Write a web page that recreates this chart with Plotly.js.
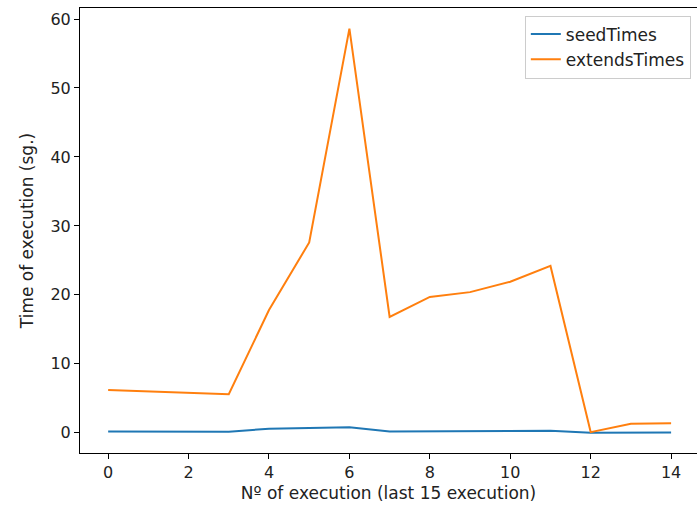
<!DOCTYPE html>
<html><head><meta charset="utf-8">
<script src="https://cdn.plot.ly/plotly-3.0.1.min.js"></script>
<style>html,body{margin:0;padding:0;background:#fff}</style>
</head><body>
<div id="chart" style="width:697px;height:505px"></div>
<script>
const executions = [0,1,2,3,4,5,6,7,8,9,10,11,12,13,14];
const seedTimes = [0.2,0.2,0.15,0.15,0.6,0.7,0.8,0.2,0.25,0.2,0.3,0.3,0.0,0.05,0.05];
const extendsTimes = [6.2,6.0,5.8,5.6,17.8,27.6,58.6,16.8,19.7,20.4,21.9,24.2,0.1,1.3,1.4];
const xTicks = [0,2,4,6,8,10,12,14];
const yTicks = [0,10,20,30,40,50,60];

const tickFont = {family:'DejaVu Sans', size:16, color:'#222'};
const titleFont = {family:'DejaVu Sans', size:17, color:'#222'};
const traces = [
  {x:executions, y:seedTimes, name:'seedTimes', mode:'lines', line:{color:'#1f77b4', width:2}},
  {x:executions, y:extendsTimes, name:'extendsTimes', mode:'lines', line:{color:'#ff7f0e', width:2}}
];
const layout = {
  width:697, height:505,
  margin:{l:80, r:0, t:8, b:52},
  paper_bgcolor:'#fff', plot_bgcolor:'#fff',
  font:tickFont,
  showlegend:true,
  legend:{x:0.99, y:0.983, xanchor:'right', yanchor:'top', bgcolor:'rgba(255,255,255,0.8)',
          bordercolor:'#ccc', borderwidth:1, font:titleFont},
  xaxis:{range:[-0.7,14.644], tickvals:xTicks, ticktext:xTicks.map(String), showgrid:false, zeroline:false,
         showline:true, mirror:true, linecolor:'#000', linewidth:1, ticks:'outside', ticklen:5, tickcolor:'#000',
         tickfont:tickFont,
         title:{text:'Nº of execution (last 15 execution)', font:titleFont, standoff:5}},
  yaxis:{range:[-2.93,61.6], tickvals:yTicks, ticktext:yTicks.map(String), showgrid:false, zeroline:false,
         showline:true, mirror:true, linecolor:'#000', linewidth:1, ticks:'outside', ticklen:5, tickcolor:'#000',
         tickfont:tickFont,
         title:{text:'Time of execution (sg.)', font:titleFont, standoff:12}}
};
Plotly.newPlot('chart', traces, layout, {displayModeBar:false, staticPlot:true});
</script>
</body></html>
